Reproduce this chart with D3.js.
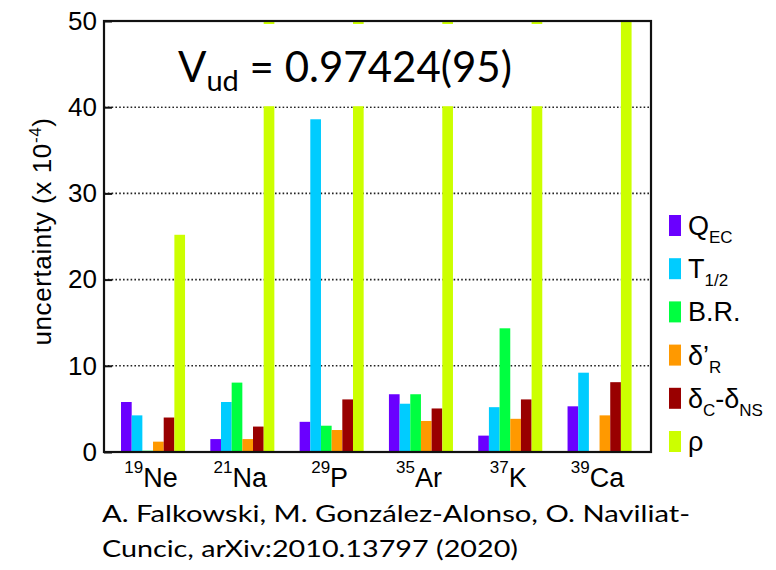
<!DOCTYPE html>
<html>
<head>
<meta charset="utf-8">
<script src="https://cdn.jsdelivr.net/npm/d3@7"></script>
<style>
  body { margin: 0; background: #fff; }
  svg { display: block; }
  .axis-text { font-family: "Liberation Sans", Arial, sans-serif; fill: #000; }
  .calibri { font-family: Lato, "Open Sans", sans-serif; fill: #000; }
</style>
</head>
<body>
<svg id="chart" width="776" height="570"></svg>
<script>
// isotopes on the x axis
const isotopes = ["Ne", "Na", "P", "Ar", "K", "Ca"];
const massNumbers = ["19", "21", "29", "35", "37", "39"];

// uncertainty sources (legend order)
const sources = ["QEC", "T12", "BR", "dR", "dC", "rho"];
const colors = ["#6a00ff", "#00ccff", "#00ff40", "#ff9900", "#990000", "#ccff00"];

// values in units of 1e-4, one array per source (rho > 50 runs off the frame)
const qec = [5.8, 1.5, 3.5, 6.7, 1.9, 5.3];
const halfLife = [4.25, 5.8, 38.6, 5.6, 5.2, 9.2];
const branching = [0.15, 8.05, 3.05, 6.7, 14.35, 0];
const deltaR = [1.2, 1.5, 2.55, 3.6, 3.85, 4.25];
const deltaC = [4.0, 2.95, 6.1, 5.05, 6.1, 8.1];
const rho = [25.2, 60, 60, 60, 60, 60];

const yTicks = [0, 10, 20, 30, 40, 50];
const gridTicks = [10, 20, 30, 40];

const series = [qec, halfLife, branching, deltaR, deltaC, rho];

const svg = d3.select("#chart");

// plot frame
const plot = {left: 104, right: 651, top: 21, bottom: 452};

const x = d3.scaleBand()
    .domain(isotopes)
    .range([plot.left, plot.right])
    .paddingInner(0.283)
    .paddingOuter(0.204)
    .align(0.467);

const xSub = d3.scaleBand()
    .domain(sources)
    .range([0, x.bandwidth()]);

const y = d3.scaleLinear()
    .domain([0, 50])
    .range([plot.bottom, plot.top]);

const color = d3.scaleOrdinal().domain(sources).range(colors);

svg.append("clipPath").attr("id", "plot-clip")
  .append("rect")
    .attr("x", plot.left).attr("y", plot.top)
    .attr("width", plot.right - plot.left)
    .attr("height", plot.bottom - plot.top);

// dotted grid
svg.append("g")
  .selectAll("line")
  .data(gridTicks)
  .join("line")
    .attr("x1", plot.left).attr("x2", plot.right)
    .attr("y1", d => y(d)).attr("y2", d => y(d))
    .attr("stroke", "#222")
    .attr("stroke-width", 1.6)
    .attr("stroke-dasharray", "1.6,2.2");

// bars
const rows = [];
isotopes.forEach((iso, i) => {
  sources.forEach((s, j) => {
    rows.push({iso: iso, source: s, value: series[j][i]});
  });
});

svg.append("g")
    .attr("clip-path", "url(#plot-clip)")
  .selectAll("rect")
  .data(rows.filter(d => d.value > 0))
  .join("rect")
    .attr("x", d => x(d.iso) + xSub(d.source))
    .attr("width", xSub.bandwidth())
    .attr("y", d => y(d.value))
    .attr("height", d => y(0) - y(d.value))
    .attr("fill", d => color(d.source));

// white box behind the Vud label (hides the tops of the tall bars)
svg.append("rect")
    .attr("x", 150).attr("y", 24)
    .attr("width", 395).attr("height", y(40) - 25)
    .attr("fill", "#fff");

const title = svg.append("text")
    .attr("class", "calibri")
    .attr("x", 178).attr("y", 82)
    .style("font-size", "42px");
title.append("tspan").text("V");
title.append("tspan").text("ud").style("font-size", "29px").attr("dy", 9);
title.append("tspan").text(" = 0.97424(95)").attr("dy", -9);

// frame
svg.append("rect")
    .attr("x", plot.left).attr("y", plot.top)
    .attr("width", plot.right - plot.left)
    .attr("height", plot.bottom - plot.top)
    .attr("fill", "none")
    .attr("stroke", "#111")
    .attr("stroke-width", 2.2);

// y axis ticks, drawn inward
const yAxis = d3.axisLeft(y).tickValues(yTicks).tickSize(-8).tickPadding(7);
const gy = svg.append("g")
    .attr("transform", `translate(${plot.left},0)`)
    .call(yAxis);
gy.select(".domain").remove();
gy.selectAll(".tick line").attr("stroke", "#111").attr("stroke-width", 2);
gy.selectAll(".tick text")
    .attr("class", "axis-text")
    .style("font-size", "26px");

// y axis title
const yTitle = svg.append("text")
    .attr("class", "axis-text")
    .attr("transform", `translate(51,${(plot.top + plot.bottom) / 2 - 5}) rotate(-90)`)
    .attr("text-anchor", "middle")
    .style("font-size", "26px")
    .style("letter-spacing", "0.6px");
yTitle.append("tspan").text("uncertainty (x 10");
yTitle.append("tspan").text("-4").style("font-size", "17px").attr("dy", -10);
yTitle.append("tspan").text(")").attr("dy", 10);

// x labels with mass number as superscript
const xl = svg.append("g")
  .selectAll("text")
  .data(isotopes)
  .join("text")
    .attr("class", "axis-text")
    .attr("x", d => x(d) + x.bandwidth() / 2 - 2)
    .attr("y", 487)
    .attr("text-anchor", "middle")
    .style("font-size", "27px");
xl.append("tspan").text((d, i) => massNumbers[i]).style("font-size", "17px").attr("dy", -14);
xl.append("tspan").text(d => d).attr("dy", 14);

// legend
const legend = svg.append("g").attr("transform", "translate(669,215)");
const legendY = d3.scalePoint().domain(sources).range([0, 216]);
const items = legend.selectAll("g")
  .data(sources)
  .join("g")
    .attr("transform", d => `translate(0,${legendY(d)})`);
items.append("rect")
    .attr("width", 12).attr("height", 21)
    .attr("fill", d => color(d));

const labelParts = {
  QEC: [["Q", 0], ["EC", 1]],
  T12: [["T", 0], ["1/2", 1]],
  BR: [["B.R.", 0]],
  dR: [["δ’", 0], ["R", 1]],
  dC: [["δ", 0], ["C", 1], ["-δ", 0], ["NS", 1]],
  rho: [["ρ", 0]]
};
items.each(function(d) {
  const t = d3.select(this).append("text")
      .attr("class", "axis-text")
      .attr("x", 19).attr("y", 20)
      .style("font-size", "27px");
  let prev = 0;
  labelParts[d].forEach(([s, sub]) => {
    t.append("tspan")
        .text(s)
        .attr("dy", (sub - prev) * 8)
        .style("font-size", sub ? "17px" : "27px");
    prev = sub;
  });
});

// citation
svg.append("text")
    .attr("class", "calibri")
    .attr("x", 102).attr("y", 522)
    .attr("textLength", 588)
    .attr("lengthAdjust", "spacingAndGlyphs")
    .style("font-size", "23px")
    .text("A. Falkowski, M. González-Alonso, O. Naviliat-");
svg.append("text")
    .attr("class", "calibri")
    .attr("x", 102).attr("y", 557)
    .attr("textLength", 416)
    .attr("lengthAdjust", "spacingAndGlyphs")
    .style("font-size", "23px")
    .text("Cuncic, arXiv:2010.13797 (2020)");
</script>
</body>
</html>
